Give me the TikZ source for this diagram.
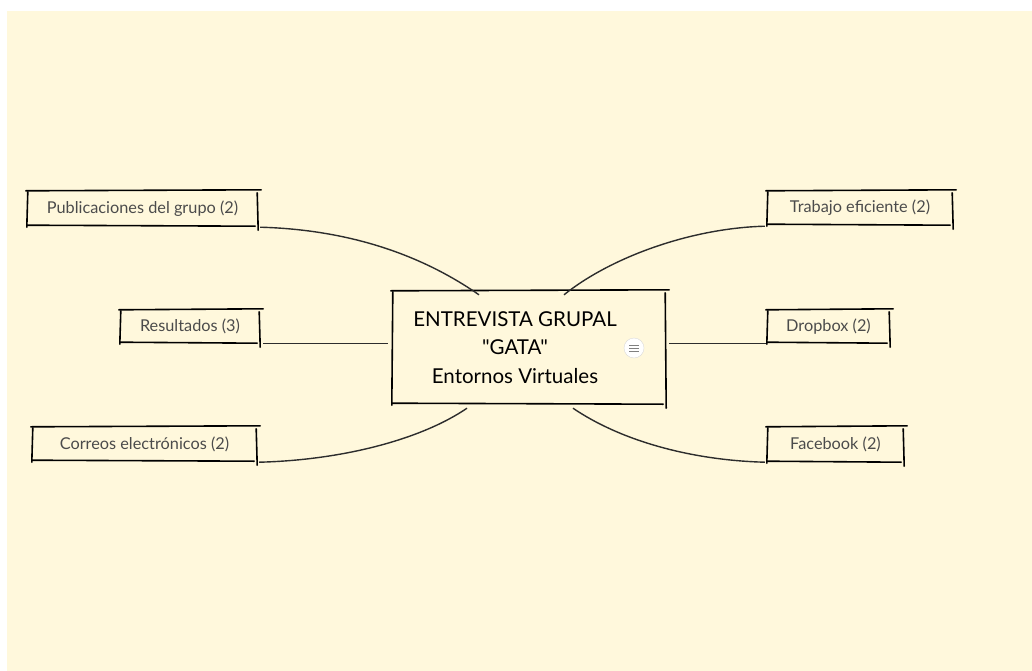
\documentclass[tikz,border=0pt]{standalone}
\usepackage{fontspec}
\setmainfont{Lato}[Ligatures=TeXOff]

\definecolor{paper}{RGB}{255,248,220}
\definecolor{ink}{RGB}{45,45,45}
\definecolor{leafgray}{RGB}{75,75,75}

\tikzset{
  leaf/.style={inner sep=0pt, font=\fontsize{16.3}{18}\selectfont, text=leafgray},
  hub/.style={inner sep=0pt, minimum width=274pt, minimum height=113pt},
  hubtext/.style={inner sep=0pt, align=center, font=\fontsize{20.5}{28.5}\selectfont},
  edge/.style={draw=ink, line width=1.4pt},
  rough/.style={draw=black, line width=1.6pt, line cap=round},
}

% hand drawn frame round a named node
\newcommand{\roughbox}[1]{%
  \draw[rough] ([shift={(-1,0)}]#1.north west) -- ([shift={(3,-1)}]#1.north east);
  \draw[rough] ([shift={(-1,2)}]#1.north east) -- ([shift={(0,4)}]#1.south east);
  \draw[rough] ([shift={(-3,0)}]#1.south east) -- ([shift={(0,-1)}]#1.south west);
  \draw[rough] ([shift={(0,1)}]#1.south west) -- ([shift={(1,1)}]#1.north west);
}

\begin{document}
\begin{tikzpicture}[x=1pt,y=-1pt]
    \useasboundingbox (0,0) rectangle (1032,671);
    \fill[paper] (7,11) rectangle (1032,671);
    %
    \node[hub] (ctr) at (529,347.5) {};
    \node[hubtext] (title) at ([xshift=-14pt]ctr.center) {ENTREVISTA GRUPAL\\"GATA"\\Entornos Virtuales};
    \node[circle, fill=white, draw=gray!30, minimum size=20pt, inner sep=0pt] (menu) at (634,348) {};
    \foreach \dy in {-3,0,3}
      \draw[gray, line width=1pt] ([shift={(-5,\dy)}]menu.center) -- ([shift={(5,\dy)}]menu.center);
    %
    \node[leaf, minimum width=231pt, minimum height=35pt] (pub) at (142.5,208.5) {Publicaciones del grupo (2)};
    \node[leaf, minimum width=140pt, minimum height=33pt] (res) at (190,326.5) {Resultados (3)};
    \node[leaf, minimum width=225pt, minimum height=34pt] (cor) at (144.5,444) {Correos electrónicos (2)};
    \node[leaf, minimum width=186pt, minimum height=34pt] (tra) at (860,208) {Trabajo eficiente (2)};
    \node[leaf, minimum width=123pt, minimum height=33pt] (drop) at (828.5,326.5) {Dropbox (2)};
    \node[leaf, minimum width=137pt, minimum height=35pt] (fb) at (835.5,444.5) {Facebook (2)};
    %
    \foreach \n in {ctr,pub,res,cor,tra,drop,fb}
      \roughbox{\n};
    %
    \draw[edge] ([shift={(2,1)}]pub.south east) .. controls +(110,3) and +(-39,-27) .. ([shift={(-50,4)}]ctr.north);
    \draw[edge, shorten <=3pt, shorten >=4pt] (res.south east) -- (res.south east -| ctr.west);
    \draw[edge] ([shift={(2,1)}]cor.south east) .. controls +(81,-2) and +(-47,32) .. ([shift={(-62,4)}]ctr.south);
    \draw[edge] ([shift={(35,4)}]ctr.north) .. controls +(46,-37) and +(-75,2) .. ([shift={(-2,1)}]tra.south west);
    \draw[edge, shorten <=3pt, shorten >=1pt] (ctr.east |- drop.south west) -- (drop.south west);
    \draw[edge] ([shift={(44,4)}]ctr.south) .. controls +(47,32) and +(-75,-2) .. ([shift={(-2,0)}]fb.south west);
\end{tikzpicture}
\end{document}
